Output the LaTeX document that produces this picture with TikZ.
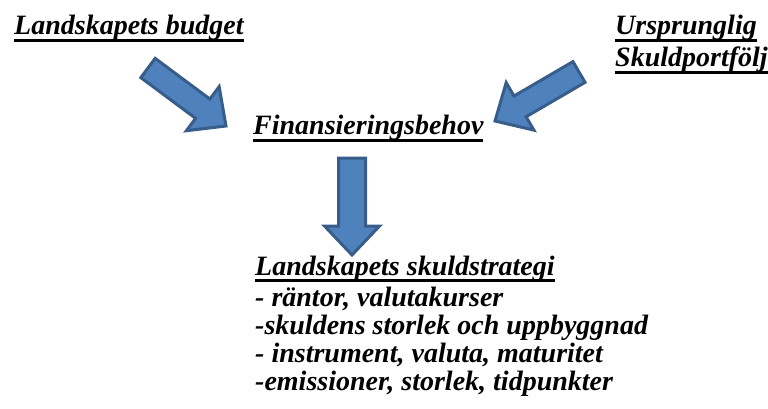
\documentclass[tikz,border=0pt]{standalone}
\usepackage{fontspec}
\setmainfont{Liberation Serif}
\usetikzlibrary{calc,positioning}

\definecolor{arrowfill}{RGB}{79,129,189}
\definecolor{arrowline}{RGB}{56,93,138}

% underline at a fixed depth
\newsavebox{\undlbox}
\newcommand{\undl}[1]{\sbox{\undlbox}{#1}\rlap{\usebox{\undlbox}}\rule[-6.7pt]{\wd\undlbox}{2.5pt}}

% block arrow from #2 (tail) to #3 (tip), #1 = half shaft width
\newcommand{\blockarrow}[3][12pt]{%
  \coordinate (#2-base) at ($(#3)!29pt!(#2)$);
  \draw[blockarrow] ($(#2)!#1!90:(#3)$) -- ($(#2-base)!#1!90:(#3)$)
    -- ($(#2-base)!27.5pt!90:(#3)$) -- (#3)
    -- ($(#2-base)!27.5pt!-90:(#3)$) -- ($(#2-base)!#1!-90:(#3)$)
    -- ($(#2)!#1!-90:(#3)$) -- cycle;}

\begin{document}
\begin{tikzpicture}[x=1pt,y=-1pt,
heading/.style={font=\fontsize{28}{28}\selectfont\bfseries\itshape, inner sep=0pt, anchor=base west, align=left},
blockarrow/.style={fill=arrowfill, draw=arrowline, line width=3pt}]

   \useasboundingbox (0,0) rectangle (768,409);

   % texts (base = baseline of the last line)
   \node[heading] (budget) at (14,35) {\undl{Landskapets budget}};
   \node[heading] (portfolj) at (615,67) {\undl{Ursprunglig}\\[4pt]\undl{Skuldportfölj}};
   \node[heading] (behov) at (253,135) {\undl{Finansieringsbehov}};
   \node[heading] (strategi) at (255,390) {\undl{Landskapets skuldstrategi}\\[3pt]
       - räntor, valutakurser\\
       -skuldens storlek och uppbyggnad\\
       - instrument, valuta, maturitet\\
       -emissioner, storlek, tidpunkter};

   % arrows
   \coordinate (tail1) at (148,68);
   \coordinate (tip1) at (226,126);
   \coordinate (tail2) at (579,72);
   \coordinate (tip2) at (495,121);
   \coordinate (tail3) at (352,158);
   \coordinate (tip3) at (352,255);

   \blockarrow{tail1}{tip1}
   \blockarrow{tail2}{tip2}
   \blockarrow[13.5pt]{tail3}{tip3}

\end{tikzpicture}
\end{document}
